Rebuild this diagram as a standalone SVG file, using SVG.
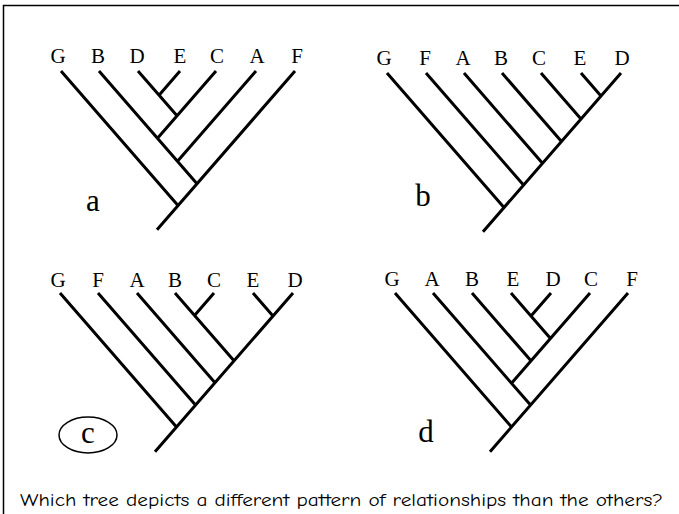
<svg xmlns="http://www.w3.org/2000/svg" width="679" height="514" viewBox="0 0 679 514">
<style>
.br{stroke:#000;stroke-width:3;fill:none;stroke-linecap:butt}
.tip{font-family:"Liberation Serif","Times New Roman",serif;font-size:21px;fill:#000;text-anchor:middle}
.tl{font-family:"Liberation Serif","Times New Roman",serif;font-size:31px;fill:#000;text-anchor:middle}
.q{font-family:"Comic Sans MS","Comic Neue","Liberation Sans",sans-serif;font-size:19px;fill:#000}
</style>
<rect width="679" height="514" fill="#fff"/>
<path d="M3.5,514 V5.5 H679" fill="none" stroke="#000" stroke-width="1.5"/>
<g id="tree-a">
<g class="tip"><text x="58" y="63">G</text><text x="98" y="63">B</text><text x="137" y="63">D</text><text x="180" y="63">E</text><text x="217" y="63">C</text><text x="257" y="63">A</text><text x="297" y="63">F</text></g>
<text class="tl" x="93" y="211">a</text>
</g>
<g id="tree-b">
<g class="tip"><text x="384" y="65">G</text><text x="425" y="65">F</text><text x="463" y="65">A</text><text x="501" y="65">B</text><text x="539" y="65">C</text><text x="580" y="65">E</text><text x="622" y="65">D</text></g>
<text class="tl" x="423" y="206">b</text>
</g>
<g id="tree-c">
<g class="tip"><text x="58" y="287">G</text><text x="98" y="287">F</text><text x="137" y="287">A</text><text x="175" y="287">B</text><text x="214" y="287">C</text><text x="253" y="287">E</text><text x="295" y="287">D</text></g>
<ellipse cx="88" cy="435" rx="29" ry="18" fill="none" stroke="#000" stroke-width="1.5"/>
<text class="tl" x="88" y="443">c</text>
</g>
<g id="tree-d">
<g class="tip"><text x="392" y="286">G</text><text x="432" y="286">A</text><text x="472" y="286">B</text><text x="513" y="286">E</text><text x="553" y="286">D</text><text x="591" y="286">C</text><text x="632" y="286">F</text></g>
<text class="tl" x="426" y="442">d</text>
</g>
<g id="connectors" class="br">
<path d="M61,71 L178,205.55 M99,71 L197,183.7 M138,71 L177,115.85 M180,71 L159,95.15 M216,71 L157.5,138.3 M256,71 L177.5,161.3 M295,71 L157,229.7"/>
<path d="M621,73 L483,231.7 M387,73 L504,207.55 M426,73 L523.5,185.1 M464,73 L542.5,163.3 M502,73 L561.5,141.4 M541,73 L581,119 M581,73 L601,96"/>
<path d="M60,293 L176.5,427 M98,293 L195.5,405.1 M137,293 L215,382.7 M175,293 L234,360.85 M214,293 L194.5,315.4 M253,293 L273,316 M293,293 L155,451.7"/>
<path d="M395,293 L511.5,427 M433,293 L530.5,405.1 M472,293 L531,360.85 M511,293 L550.5,338.4 M551,293 L531,316 M590,293 L511.5,383.3 M628,293 L490,451.7"/>
</g>
<text id="question" class="q" x="20" y="506" textLength="643" lengthAdjust="spacingAndGlyphs">Which tree depicts a different pattern of relationships than the others?</text>
</svg>
